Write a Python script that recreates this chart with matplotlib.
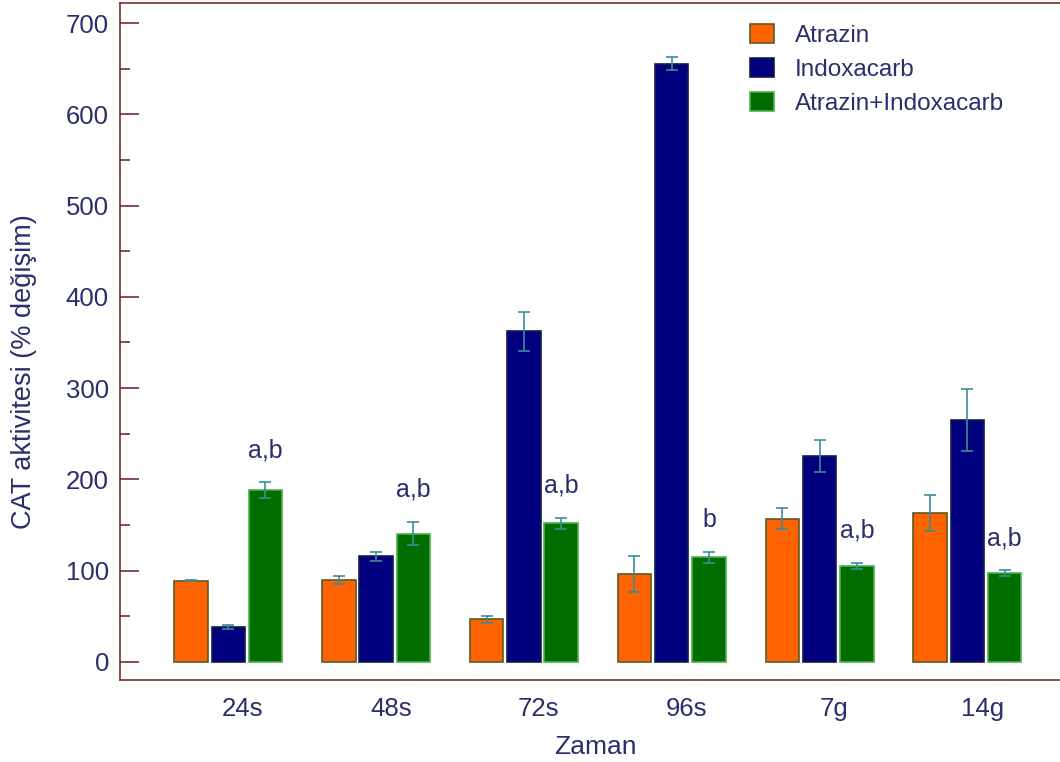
import matplotlib
matplotlib.use("Agg")
import matplotlib.pyplot as plt
import numpy as np
from matplotlib.ticker import MultipleLocator

plt.rcParams['font.family'] = ['Liberation Sans', 'DejaVu Sans']

# Sampling times and series
categories = ["24s", "48s", "72s", "96s", "7g", "14g"]
series_names = ["Atrazin", "Indoxacarb", "Atrazin+Indoxacarb"]
atrazin = [89, 89.5, 46.5, 96, 157, 163]
atrazin_err = [1, 4, 4, 20, 11.5, 19.5]
indoxacarb = [38, 115.5, 362, 655.5, 225.5, 264.5]
indoxacarb_err = [2.5, 5, 21, 7.5, 18, 34]
combo = [188, 140.5, 152, 114.5, 105, 97.5]
combo_err = [9, 13, 6, 6, 3.5, 3]
significance = ["a,b", "a,b", "a,b", "b", "a,b", "a,b"]

fills = ["#ff6200", "#00007f", "#006f00"]
edges = ["#5e5a22", "#141c48", "#4fae4f"]
text_color = "#2c2e6c"
frame_color = "#6a1c1c"
err_color = "#3a8c98"

fig = plt.figure(figsize=(10.6, 7.62), dpi=100)
ax = fig.add_axes([0.1132, 0.1076, 0.8968, 0.8885])

x = np.arange(len(categories))
width = 0.226
step = 0.252
values = [atrazin, indoxacarb, combo]
errors = [atrazin_err, indoxacarb_err, combo_err]
for i, (vals, errs) in enumerate(zip(values, errors)):
    pos = x + (i - 1) * step
    ax.bar(pos, vals, width=width, color=fills[i], edgecolor=edges[i],
           linewidth=1.2, label=series_names[i], zorder=2)
    ax.errorbar(pos, vals, yerr=errs, fmt='none', ecolor=err_color,
                elinewidth=1.2, capsize=4.6, capthick=1.2, zorder=3)

# Significance letters above the combined-treatment bars
for xi, v, e, s in zip(x, combo, combo_err, significance):
    ax.annotate(s, (xi + step, v + e), xytext=(0, 18), textcoords='offset points',
                ha='center', va='baseline', fontsize=18, color=text_color)

ax.set_xlim(-0.732, 5.698)
ax.set_ylim(-20, 722)

ax.yaxis.set_major_locator(MultipleLocator(100))
ax.yaxis.set_minor_locator(MultipleLocator(50))
ax.tick_params(axis='y', which='major', direction='in', length=13.5, width=1.1,
               color=frame_color, labelsize=18.5, labelcolor=text_color, pad=8)
ax.tick_params(axis='y', which='minor', direction='in', length=7, width=1.1,
               color=frame_color)
ax.set_xticks(x + 0.1)
ax.set_xticklabels(categories)
ax.tick_params(axis='x', length=0, labelsize=18.5, labelcolor=text_color, pad=12)

for side in ['left', 'top', 'bottom']:
    ax.spines[side].set_color(frame_color)
    ax.spines[side].set_linewidth(1.1)
ax.spines['right'].set_visible(False)

ax.set_ylabel("CAT aktivitesi (% değişim)", fontsize=19.5, color=text_color)
ax.yaxis.set_label_coords(-0.087, 0.456)
ax.set_xlabel("Zaman", fontsize=19, color=text_color, labelpad=10)

leg = ax.legend(loc='upper left', bbox_to_anchor=(0.652, 0.984), frameon=False,
                fontsize=17.5, handlelength=1.0, handleheight=0.85,
                handletextpad=0.85, labelspacing=0.45, borderaxespad=0)
for t in leg.get_texts():
    t.set_color(text_color)

fig.savefig("out.png", dpi=100)
